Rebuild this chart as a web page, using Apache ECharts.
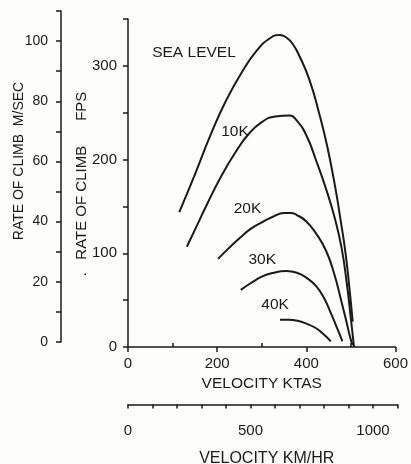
<!DOCTYPE html>
<html>
<head>
<meta charset="utf-8">
<script src="https://cdn.jsdelivr.net/npm/echarts@6/dist/echarts.min.js"></script>
<style>
  html, body { margin: 0; padding: 0; background: #fdfdfb; }
  #chart { width: 411px; height: 464px; }
</style>
</head>
<body>
<div id="chart"></div>
<script>
// rate of climb (fps) against velocity (ktas), one curve per altitude
const seaLevel = [[115,144],[150,184],[185,226],[220,263],[255,293],[290,317],[320,330],[340,333],[356,330],[370,323],[385,310],[407,285],[429,249],[447,214],[465,170],[478,132],[488,100],[496,66],[504,27]];
const alt10k = [[132,107],[150,125],[180,155],[210,183],[240,207],[270,227],[300,240],[330,246],[363,247],[378,242],[400,226],[422,199],[444,169],[463,139],[479,106],[491,67],[500,30],[507,0]];
const alt20k = [[202,94],[225,105],[250,116],[275,126],[300,133],[325,139],[350,143],[365,143],[378,141],[400,134],[422,121],[444,103],[462,79],[478,50],[490,27],[499,9],[504,2]];
const alt30k = [[253,61],[275,68],[300,75],[325,79],[355,81],[380,79],[400,74],[422,65],[440,52],[456,35],[470,19],[481,6]];
const alt40k = [[341,29],[360,29],[380,28],[400,25],[422,20],[440,13],[455,6]];

const curveNames = ['SEA LEVEL', '10K', '20K', '30K', '40K'];
// where each curve's name sits, in ktas / fps
const curveLabelAt = [[148,314],[240,230],[268,148],[301,93],[330,45]];

const ink = '#1a1a1a';
const font = 'Liberation Sans, Arial, Helvetica, sans-serif';

const chart = echarts.init(document.getElementById('chart'));

const axisLine = { show: true, onZero: false, lineStyle: { color: ink, width: 1.5 } };
const tickStyle = { color: ink, width: 1.5 };

// vertical axis titles, drawn as rotated text
function sideTitle(text, x, y, size) {
    return {
        type: 'text', x: x, y: y, rotation: Math.PI / 2, silent: true,
        style: {
            text: text, fill: ink, fontSize: size, fontFamily: font,
            align: 'center', verticalAlign: 'middle',
            textAlign: 'center', textVerticalAlign: 'middle'
        }
    };
}

chart.setOption({
    backgroundColor: '#fdfdfb',
    animation: false,
    textStyle: { fontFamily: font, color: ink },
    grid: [
        { left: 128, top: 19, width: 273, height: 328 },
        { left: 61, top: 11, width: 10, height: 331 },
        { left: 128, top: 402, width: 269.5, height: 10 }
    ],
    graphic: [
        sideTitle('RATE OF CLIMB  M/SEC', 19, 161, 14),
        sideTitle('.   RATE OF CLIMB      FPS', 82, 184, 15)
    ],
    xAxis: [
        {
            gridIndex: 0, type: 'value', min: 0, max: 600, interval: 200, position: 'bottom',
            axisLine: axisLine,
            axisTick: { show: true, length: 5, lineStyle: tickStyle },
            axisLabel: { margin: 9, fontSize: 15, color: ink, fontFamily: font },
            splitLine: { show: false },
            name: 'VELOCITY KTAS', nameLocation: 'middle', nameGap: 27,
            nameTextStyle: { fontSize: 15.5, color: ink, fontFamily: font }
        },
        {
            // minor ticks at 100, 300, 500 point up into the plot
            gridIndex: 0, type: 'value', min: 0, max: 600, interval: 200, position: 'bottom',
            axisLine: { show: false, onZero: false },
            axisTick: { show: false, inside: true },
            minorTick: { show: true, splitNumber: 2, length: 4, lineStyle: tickStyle },
            axisLabel: { show: false },
            splitLine: { show: false }
        },
        { gridIndex: 1, type: 'value', min: 0, max: 1, show: false },
        {
            gridIndex: 2, type: 'value', min: 0, max: 1100, interval: 100, position: 'bottom',
            axisLine: axisLine,
            axisTick: { show: true, length: 4, lineStyle: tickStyle },
            axisLabel: {
                margin: 19, fontSize: 15, color: ink, fontFamily: font,
                formatter: v => (v % 500 === 0 ? String(v) : '')
            },
            splitLine: { show: false },
            name: 'VELOCITY KM/HR', nameLocation: 'middle', nameGap: 46,
            nameTextStyle: { fontSize: 16, color: ink, fontFamily: font, padding: [0, 0, 0, 8] }
        }
    ],
    yAxis: [
        {
            gridIndex: 0, type: 'value', min: 0, max: 350, interval: 50,
            axisLine: axisLine,
            axisTick: { show: true, length: 5, lineStyle: tickStyle },
            axisLabel: {
                margin: 11, fontSize: 15, color: ink, fontFamily: font,
                formatter: v => (v % 100 === 0 ? String(v) : '')
            },
            splitLine: { show: false }
        },
        {
            gridIndex: 1, type: 'value', min: 0, max: 110, interval: 10,
            axisLine: axisLine,
            axisTick: { show: true, length: 5, lineStyle: tickStyle },
            axisLabel: {
                margin: 13, fontSize: 14, color: ink, fontFamily: font,
                formatter: v => (v % 20 === 0 ? String(v) : '')
            },
            splitLine: { show: false }
        },
        { gridIndex: 2, type: 'value', min: 0, max: 1, show: false }
    ],
    series: [seaLevel, alt10k, alt20k, alt30k, alt40k].map((pts, i) => ({
        type: 'line',
        name: curveNames[i],
        xAxisIndex: 0, yAxisIndex: 0,
        data: pts,
        smooth: 0.5,
        showSymbol: false,
        silent: true,
        lineStyle: { color: ink, width: 2 }
    })).concat([{
        type: 'scatter',
        xAxisIndex: 0, yAxisIndex: 0,
        symbolSize: 0,
        silent: true,
        itemStyle: { opacity: 1 },
        data: curveLabelAt.map((p, i) => ({ value: p, name: curveNames[i] })),
        label: {
            show: true, position: 'inside', formatter: '{b}',
            fontSize: 15.5, color: ink, fontFamily: font, opacity: 1
        }
    }])
});
</script>
</body>
</html>
